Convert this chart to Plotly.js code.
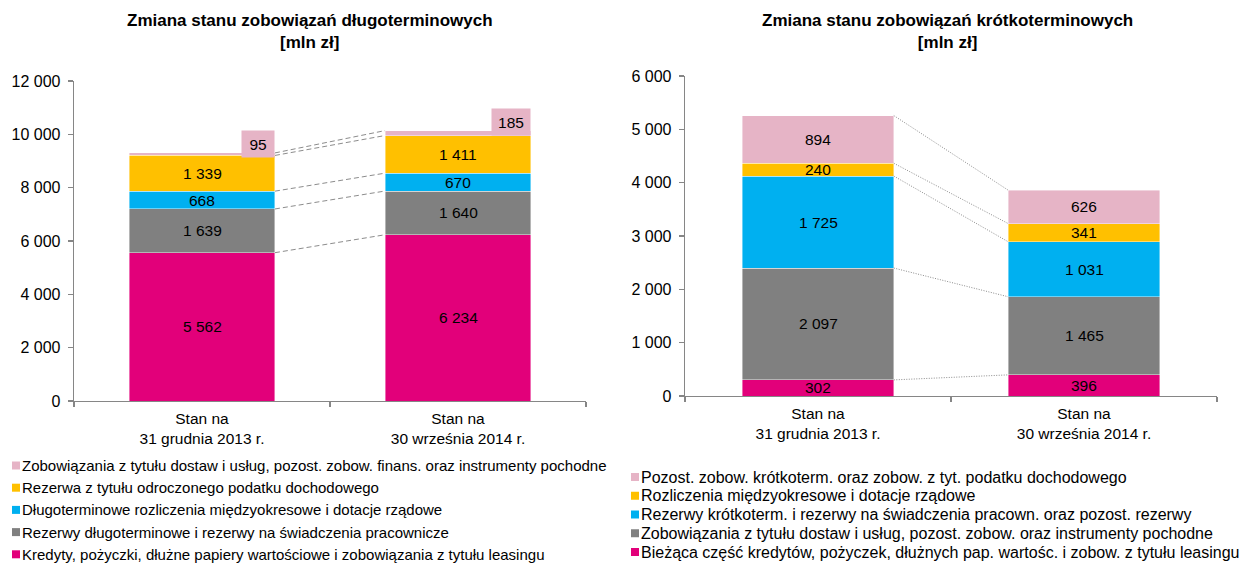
<!DOCTYPE html>
<html>
<head>
<meta charset="utf-8">
<script src="https://cdn.plot.ly/plotly-3.0.1.min.js"></script>
<style>html,body{margin:0;padding:0;background:#fff;}#chart{width:1242px;height:563px;}</style>
</head>
<body>
<div id="chart"></div>
<script>
// ---- data ----
const categories = ['Stan na<br>31 grudnia 2013 r.', 'Stan na<br>30 września 2014 r.'];

const ltNames = [
  'Kredyty, pożyczki, dłużne papiery wartościowe i zobowiązania z tytułu leasingu',
  'Rezerwy długoterminowe i rezerwy na świadczenia pracownicze',
  'Długoterminowe rozliczenia międzyokresowe i dotacje rządowe',
  'Rezerwa z tytułu odroczonego podatku dochodowego',
  'Zobowiązania z tytułu dostaw i usług, pozost. zobow. finans. oraz instrumenty pochodne'
];
const ltKredyty = [5562, 6234];
const ltRezerwy = [1639, 1640];
const ltRozliczenia = [668, 670];
const ltPodatek = [1339, 1411];
const ltZobowiazania = [95, 185];

const stNames = [
  'Bieżąca część kredytów, pożyczek, dłużnych pap. wartośc. i zobow. z tytułu leasingu',
  'Zobowiązania z tytułu dostaw i usług, pozost. zobow. oraz instrumenty pochodne',
  'Rezerwy krótkoterm. i rezerwy na świadczenia pracown. oraz pozost. rezerwy',
  'Rozliczenia międzyokresowe i dotacje rządowe',
  'Pozost. zobow. krótkoterm. oraz zobow. z tyt. podatku dochodowego'
];
const stKredyty = [302, 396];
const stZobowiazania = [2097, 1465];
const stRezerwy = [1725, 1031];
const stRozliczenia = [240, 341];
const stPozostale = [894, 626];

const leftTitle = 'Zmiana stanu zobowiązań długoterminowych<br>[mln zł]';
const rightTitle = 'Zmiana stanu zobowiązań krótkoterminowych<br>[mln zł]';

// ---- style ----
const colors = ['#E2007A', '#808080', '#00B0F0', '#FFC000', '#E6B4C6'];
const FONT = 'Liberation Sans, Arial, sans-serif';
const W = 1242, H = 563;
const bargap = 0.43;
const half = (1 - bargap) / 2;
const fmt = v => String(v).replace(/\B(?=(\d{3})+(?!\d))/g, ' ');

const ltSeries = [ltKredyty, ltRezerwy, ltRozliczenia, ltPodatek, ltZobowiazania];
const stSeries = [stKredyty, stZobowiazania, stRezerwy, stRozliczenia, stPozostale];

const traces = [];
const annotations = [];
const shapes = [];

function buildChart(series, names, xa, ya, dash, boxTop) {
  const cum = categories.map(() => 0);
  const tops = [];
  series.forEach((vals, i) => {
    traces.push({
      type: 'bar', x: categories, y: vals, name: names[i],
      xaxis: xa, yaxis: ya, showlegend: false,
      marker: {color: colors[i], line: {color: 'rgba(255,255,255,0.7)', width: 0.6}},
      hoverinfo: 'y+name'
    });
    const top = [];
    vals.forEach((v, j) => {
      const isBox = boxTop && i === series.length - 1;
      if (isBox) {
        annotations.push({
          xref: xa, yref: ya, x: j + half, y: cum[j] + v, xanchor: 'right', yanchor: 'bottom',
          yshift: -5, text: fmt(v), showarrow: false, bgcolor: colors[i],
          width: j === 0 ? 30 : 36, height: 24,
          font: {family: FONT, size: 15.5, color: '#000'}
        });
      } else {
        annotations.push({
          xref: xa, yref: ya, x: j, y: cum[j] + v / 2, text: fmt(v), showarrow: false,
          font: {family: FONT, size: 15.5, color: '#000'}
        });
      }
      cum[j] += v;
      top.push(cum[j]);
    });
    tops.push(top);
  });
  tops.forEach(t => {
    shapes.push({
      type: 'line', xref: xa, yref: ya, x0: 0 + half, x1: 1 - half, y0: t[0], y1: t[1],
      line: {color: '#8c8c8c', width: 1, dash: dash}
    });
  });
}

buildChart(ltSeries, ltNames, 'x', 'y', '5px,3px', true);
buildChart(stSeries, stNames, 'x2', 'y2', '1px,1.5px', false);

// titles
[[leftTitle, 310], [rightTitle, 947]].forEach(([t, px]) => {
  annotations.push({
    xref: 'paper', yref: 'paper', x: px / W, y: 1 - 32 / H, xanchor: 'center', yanchor: 'middle',
    text: '<b>' + t + '</b>', showarrow: false, align: 'center',
    font: {family: FONT, size: 17, color: '#000'}
  });
});

// manual legends (top-to-bottom = reverse of stack order)
function buildLegend(names, sqX, textX, y0, step, fsize) {
  for (let k = 0; k < names.length; k++) {
    const i = names.length - 1 - k;
    const cy = y0 + k * step;
    shapes.push({
      type: 'rect', xref: 'paper', yref: 'paper',
      x0: sqX / W, x1: (sqX + 8) / W, y0: 1 - (cy + 4) / H, y1: 1 - (cy - 4) / H,
      fillcolor: colors[i], line: {width: 0}
    });
    annotations.push({
      xref: 'paper', yref: 'paper', x: textX / W, y: 1 - cy / H, xanchor: 'left', yanchor: 'middle',
      text: names[i], showarrow: false, font: {family: FONT, size: fsize, color: '#000'}
    });
  }
}
buildLegend(ltNames, 12, 20, 465.5, 22.2, 15);
buildLegend(stNames, 631, 639, 477, 18.75, 16);

const xaxisBase = {
  type: 'category', tickson: 'boundaries', ticks: 'outside', ticklen: 5, tickwidth: 1.3,
  tickcolor: '#868686', showline: true, linecolor: '#868686', linewidth: 1.3,
  showgrid: false, zeroline: false, fixedrange: true, ticklabelstandoff: 3,
  tickfont: {family: FONT, size: 15.5, color: '#000'}
};
const yaxisBase = {
  ticks: 'outside', ticklen: 5, tickwidth: 1.3, tickcolor: '#868686', showline: true,
  linecolor: '#868686', linewidth: 1.3, showgrid: false, zeroline: false, tickformat: ',',
  ticklabelstandoff: 4, tickfont: {family: FONT, size: 16, color: '#000'}
};

const layout = {
  width: W, height: H, margin: {l: 0, r: 0, t: 0, b: 0},
  paper_bgcolor: '#fff', plot_bgcolor: '#fff', separators: ', ',
  barmode: 'stack', bargap: bargap, showlegend: false,
  font: {family: FONT, size: 15, color: '#000'},
  xaxis: Object.assign({}, xaxisBase, {domain: [74 / W, 586 / W], anchor: 'y'}),
  yaxis: Object.assign({}, yaxisBase, {domain: [1 - 401 / H, 1 - 81 / H], range: [0, 12000], dtick: 2000, anchor: 'x'}),
  xaxis2: Object.assign({}, xaxisBase, {domain: [685 / W, 1217 / W], anchor: 'y2'}),
  yaxis2: Object.assign({}, yaxisBase, {domain: [1 - 396 / H, 1 - 76 / H], range: [0, 6000], dtick: 1000, anchor: 'x2'}),
  annotations: annotations,
  shapes: shapes
};

Plotly.newPlot('chart', traces, layout, {displayModeBar: false, staticPlot: true});
</script>
</body>
</html>
